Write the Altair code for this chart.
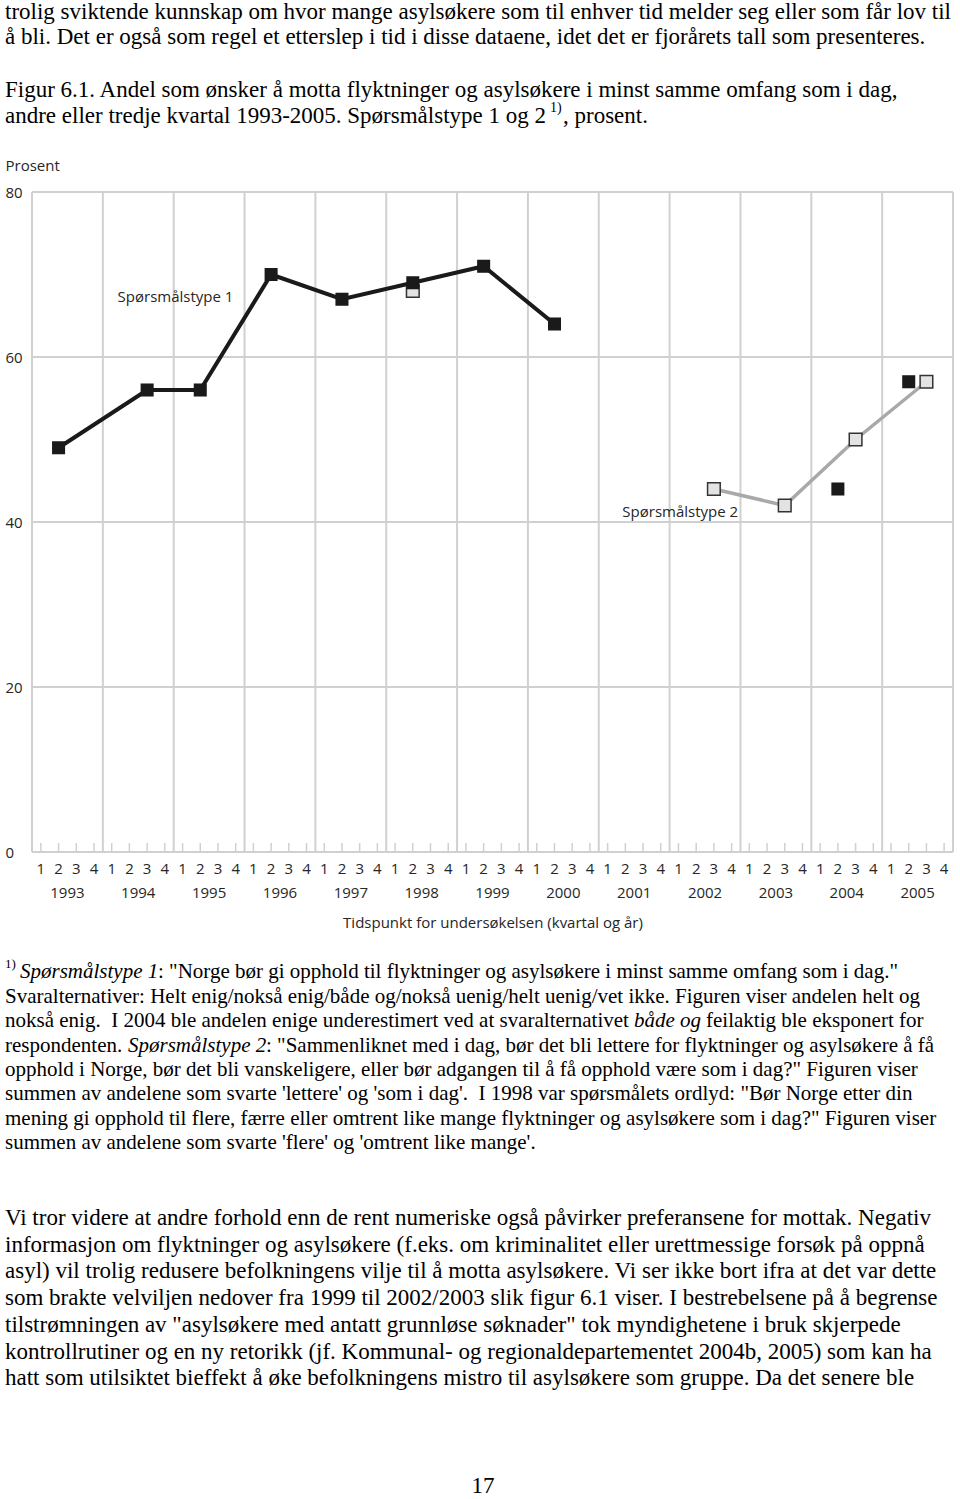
import altair as alt
import pandas as pd

# ---------------- data ----------------
years = list(range(1993, 2006))
quarter_labels = ["1", "2", "3", "4"]
y_ticks = [0, 20, 40, 60, 80]

t1_years = [1993, 1994, 1995, 1996, 1997, 1998, 1999, 2000, 2004, 2005]
t1_quarters = [2, 3, 2, 2, 2, 2, 2, 2, 2, 2]
t1_values = [49, 56, 56, 70, 67, 69, 71, 64, 44, 57]
t1_segments = ["a", "a", "a", "a", "a", "a", "a", "a", "b", "c"]

t2_years = [1998, 2002, 2003, 2004, 2005]
t2_quarters = [2, 3, 3, 3, 3]
t2_values = [68, 44, 42, 50, 57]
t2_segments = ["a", "b", "b", "b", "b"]

series_labels = ["Spørsmålstype 1", "Spørsmålstype 2"]
series_label_pos = [(1994, 4.1, 67.3), (2001, 4.6, 41.2)]  # (year, quarter-offset, value)

top_lines = [
    "trolig sviktende kunnskap om hvor mange asylsøkere som til enhver tid melder seg eller som får lov til",
    "å bli. Det er også som regel et etterslep i tid i disse dataene, idet det er fjorårets tall som presenteres.",
]
caption_line1 = "Figur 6.1. Andel som ønsker å motta flyktninger og asylsøkere i minst samme omfang som i dag,"
caption_line2 = "andre eller tredje kvartal 1993-2005. Spørsmålstype 1 og 2"
caption_tail = ", prosent."

foot_l1_it = "Spørsmålstype 1"
foot_l1_rest = ': "Norge bør gi opphold til flyktninger og asylsøkere i minst samme omfang som i dag."'
foot_l2 = "Svaralternativer: Helt enig/nokså enig/både og/nokså uenig/helt uenig/vet ikke. Figuren viser andelen helt og"
foot_l3_a = "nokså enig.\u00a0 I 2004 ble andelen enige underestimert ved at svaralternativet"
foot_l3_it = "både og"
foot_l3_b = "feilaktig ble eksponert for"
foot_l4_a = "respondenten."
foot_l4_it = "Spørsmålstype 2"
foot_l4_b = ': "Sammenliknet med i dag, bør det bli lettere for flyktninger og asylsøkere å få'
foot_rest = [
    'opphold i Norge, bør det bli vanskeligere, eller bør adgangen til å få opphold være som i dag?" Figuren viser',
    "summen av andelene som svarte 'lettere' og 'som i dag'.\u00a0 I 1998 var spørsmålets ordlyd: \"Bør Norge etter din",
    'mening gi opphold til flere, færre eller omtrent like mange flyktninger og asylsøkere som i dag?" Figuren viser',
    "summen av andelene som svarte 'flere' og 'omtrent like mange'.",
]
bottom_lines = [
    "Vi tror videre at andre forhold enn de rent numeriske også påvirker preferansene for mottak. Negativ",
    "informasjon om flyktninger og asylsøkere (f.eks. om kriminalitet eller urettmessige forsøk på oppnå",
    "asyl) vil trolig redusere befolkningens vilje til å motta asylsøkere. Vi ser ikke bort ifra at det var dette",
    "som brakte velviljen nedover fra 1999 til 2002/2003 slik figur 6.1 viser. I bestrebelsene på å begrense",
    "tilstrømningen av \"asylsøkere med antatt grunnløse søknader\" tok myndighetene i bruk skjerpede",
    "kontrollrutiner og en ny retorikk (jf. Kommunal- og regionaldepartementet 2004b, 2005) som kan ha",
    "hatt som utilsiktet bieffekt å øke befolkningens mistro til asylsøkere som gruppe. Da det senere ble",
]
page_number = "17"

# ---------------- layout constants ----------------
W, H = 921, 660
PAD_L, PAD_T = 32, 192
SERIF = "Liberation Serif"
SANS = "Open Sans"
GRID = "#d0d0d0"
LABEL = "#262626"


def qpos(y, q):
    return (y - years[0]) * 4 + q - 0.5


df1 = pd.DataFrame({"x": [qpos(y, q) for y, q in zip(t1_years, t1_quarters)],
                    "v": t1_values, "seg": t1_segments})
df2 = pd.DataFrame({"x": [qpos(y, q) for y, q in zip(t2_years, t2_quarters)],
                    "v": t2_values, "seg": t2_segments})
bounds = pd.DataFrame({"x": [4 * i for i in range(len(years) + 1)]})
qlab = pd.DataFrame({"x": [i + 0.5 for i in range(4 * len(years))],
                     "t": [quarter_labels[i % 4] for i in range(4 * len(years))]})
yearlab = pd.DataFrame({"x": [(y - years[0]) * 4 + 2 for y in years], "t": [str(y) for y in years]})
serlab = pd.DataFrame({"x": [(y - years[0]) * 4 + o for y, o, v in series_label_pos],
                       "v": [v for y, o, v in series_label_pos], "t": series_labels})

xs = alt.Scale(domain=[0, 4 * len(years)], nice=False, zero=False)
ys = alt.Scale(domain=[y_ticks[0], y_ticks[-1]], nice=False)

x_axis = alt.Axis(labels=False, ticks=False, domain=False, grid=False,
                  title="Tidspunkt for undersøkelsen (kvartal og år)",
                  titleFont=SANS, titleFontSize=15, titleFontWeight="normal",
                  titleColor=LABEL, titleY=70, titleBaseline="middle")
y_axis = alt.Axis(values=y_ticks, grid=False, ticks=False, domain=False,
                  labelAlign="left", labelBaseline="middle", labelPadding=27,
                  labelFontSize=15, labelFont=SANS, labelColor=LABEL,
                  title="Prosent", titleAngle=0, titleAlign="left",
                  titleBaseline="middle", titleX=-27, titleY=-27,
                  titleFont=SANS, titleFontSize=15, titleFontWeight="normal",
                  titleColor=LABEL)


def X(field="x"):
    return alt.X(field + ":Q", scale=xs, axis=x_axis, title="Tidspunkt for undersøkelsen (kvartal og år)")


def Y(field="v"):
    return alt.Y(field + ":Q", scale=ys, axis=y_axis, title="Prosent")


grid_rules = alt.Chart(bounds).mark_rule(color=GRID, strokeWidth=2).encode(x=X())
tick_rules = alt.Chart(qlab).mark_rule(color=GRID, strokeWidth=1.5).encode(
    x=X(), y=alt.value(H), y2=alt.value(H - 9))
hgrid = alt.Chart(pd.DataFrame({"v": y_ticks})).mark_rule(color=GRID, strokeWidth=2).encode(y=Y())

line2 = alt.Chart(df2).mark_line(color="#a9a9a9", strokeWidth=3.5).encode(
    x=X(), y=Y(), detail="seg:N")
pts2 = alt.Chart(df2).mark_point(shape="square", filled=True, size=160, fill="#e3e3e3",
                                 stroke="#333333", strokeWidth=1.5, opacity=1).encode(x=X(), y=Y())
line1 = alt.Chart(df1).mark_line(color="#1a1a1a", strokeWidth=4).encode(
    x=X(), y=Y(), detail="seg:N")
pts1 = alt.Chart(df1).mark_point(shape="square", filled=True, size=170, color="#1a1a1a",
                                 opacity=1).encode(x=X(), y=Y())

quarter_txt = alt.Chart(qlab).mark_text(font=SANS, fontSize=15, color=LABEL, baseline="middle").encode(
    x=X(), y=alt.value(H + 17), text="t:N")
years_txt = alt.Chart(yearlab).mark_text(font=SANS, fontSize=15, color=LABEL, baseline="middle").encode(
    x=X(), y=alt.value(H + 41), text="t:N")
ser_txt = alt.Chart(serlab).mark_text(font=SANS, fontSize=15, color=LABEL, baseline="middle").encode(
    x=X(), y=Y(), text="t:N")

plot = alt.layer(grid_rules, hgrid, tick_rules, line2, pts2, line1, pts1,
                 quarter_txt, years_txt, ser_txt)

# ---------------- page text ----------------
rows = []  # (text, X, Y, size, style, align)
for i, t in enumerate(top_lines):
    rows.append((t, 5, 12 + 25 * i, 23, "normal", "left"))
rows.append((caption_line1, 5, 90, 23, "normal", "left"))
rows.append((caption_line2, 5, 116, 23, "normal", "left"))
rows.append(("1)", 550, 108, 14, "normal", "left"))
rows.append((caption_tail, 563, 116, 23, "normal", "left"))

fy = [972, 997, 1021, 1046, 1070, 1094, 1119, 1143]
rows.append(("1)", 5, 964, 13, "normal", "left"))
rows.append((foot_l1_it, 20, fy[0], 21, "italic", "left"))
rows.append((foot_l1_rest, 158, fy[0], 21, "normal", "left"))
rows.append((foot_l2, 5, fy[1], 21, "normal", "left"))
rows.append((foot_l3_a, 5, fy[2], 21, "normal", "left"))
rows.append((foot_l3_it, 634, fy[2], 21, "italic", "left"))
rows.append((foot_l3_b, 706, fy[2], 21, "normal", "left"))
rows.append((foot_l4_a, 5, fy[3], 21, "normal", "left"))
rows.append((foot_l4_it, 128, fy[3], 21, "italic", "left"))
rows.append((foot_l4_b, 266, fy[3], 21, "normal", "left"))
for i, t in enumerate(foot_rest):
    rows.append((t, 5, fy[4 + i], 21, "normal", "left"))
for i, t in enumerate(bottom_lines):
    rows.append((t, 5, 1218 + 26.7 * i, 23, "normal", "left"))
rows.append((page_number, 483, 1486, 23, "normal", "center"))

tdf = pd.DataFrame(rows, columns=["text", "X", "Y", "size", "style", "align"])
tdf["px"] = tdf["X"] - PAD_L
tdf["py"] = tdf["Y"] - PAD_T

text_layers = []
for (size, style, align), g in tdf.groupby(["size", "style", "align"]):
    text_layers.append(
        alt.Chart(g[["text", "px", "py"]]).mark_text(
            font=SERIF, fontSize=int(size), fontStyle=style, align=align,
            baseline="middle", color="black").encode(
            x=alt.X("px:Q", scale=None, axis=None),
            y=alt.Y("py:Q", scale=None, axis=None),
            text="text:N"))

chart = alt.layer(plot, *text_layers).resolve_scale(x="independent", y="independent").properties(
    width=W, height=H,
    autosize=alt.AutoSizeParams(type="none"),
    padding={"left": PAD_L, "top": PAD_T, "right": 960 - PAD_L - W, "bottom": 1499 - PAD_T - H},
    background="white",
).configure_view(stroke=None)

chart.save("out.html", embed_options={"renderer": "svg", "actions": False})
